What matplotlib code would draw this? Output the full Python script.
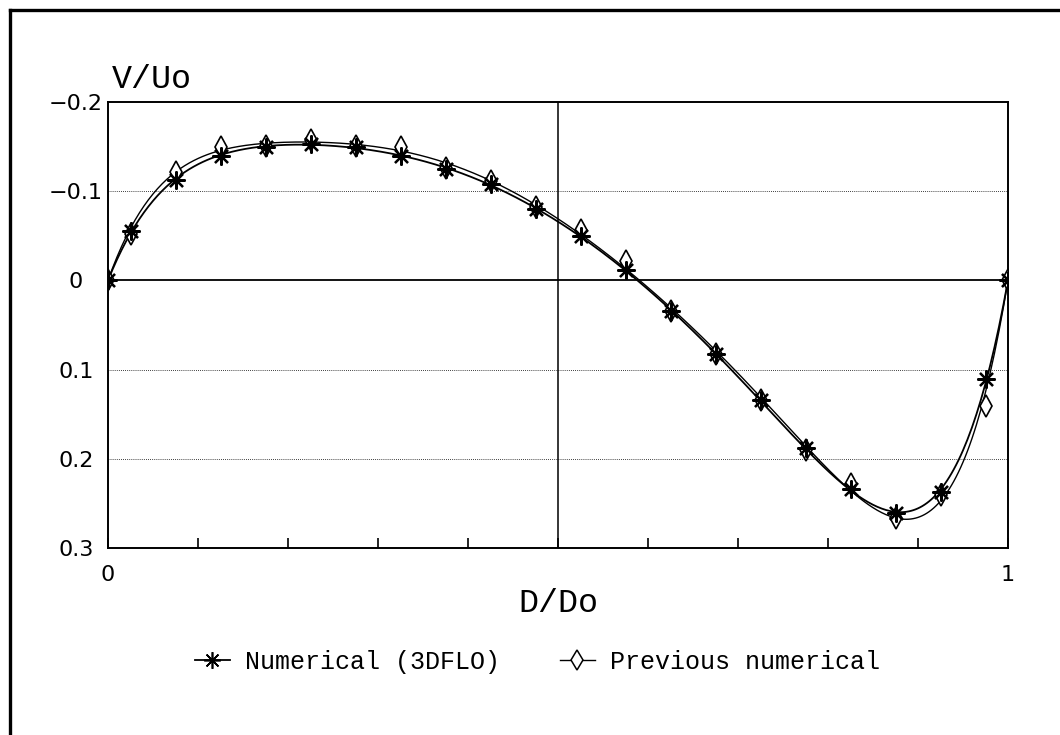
import numpy as np
import matplotlib.pyplot as plt
from matplotlib.lines import Line2D

# D/Do positions of the sampled points
d_ratio = [0.0, 0.025, 0.075, 0.125, 0.175, 0.225, 0.275, 0.325, 0.375, 0.425, 0.475,
           0.525, 0.575, 0.625, 0.675, 0.725, 0.775, 0.825, 0.875, 0.925, 0.975, 1.0]

# V/Uo, numerical (3DFLO)
v_3dflo = [0.0, -0.055, -0.113, -0.140, -0.150, -0.153, -0.149, -0.140, -0.125, -0.108, -0.080,
           -0.050, -0.012, 0.034, 0.083, 0.134, 0.188, 0.234, 0.261, 0.237, 0.111, 0.0]

# V/Uo, previous numerical
v_prev = [0.0, -0.052, -0.122, -0.150, -0.151, -0.157, -0.151, -0.149, -0.126, -0.111, -0.082,
          -0.057, -0.022, 0.034, 0.082, 0.134, 0.190, 0.228, 0.266, 0.241, 0.141, 0.0]

y_ticks = [-0.2, -0.1, 0.0, 0.1, 0.2, 0.3]
y_tick_labels = ["\u22120.2", "\u22120.1", "0", "0.1", "0.2", "0.3"]

mono = "Liberation Mono"


def smooth_curve(x, y, deg=7):
    # least squares polynomial, ends pinned by heavy weights
    x = np.asarray(x)
    y = np.asarray(y)
    w = np.ones_like(x)
    w[0] = w[-1] = 50
    p = np.polyfit(x, y, deg, w=w)
    xs = np.linspace(x[0], x[-1], 400)
    return xs, np.polyval(p, xs)


fig = plt.figure(figsize=(10.6, 7.35), dpi=100)
ax = fig.add_axes([108/1060, 1 - 548/735, 900/1060, 446/735])

# frame round the whole figure (top and left edges visible)
fig.add_artist(Line2D([10/1060, 10/1060], [-0.1, 1 - 10/735], transform=fig.transFigure,
                      color="black", lw=2.4))
fig.add_artist(Line2D([10/1060, 1.1], [1 - 10/735, 1 - 10/735], transform=fig.transFigure,
                      color="black", lw=2.4))

# reference lines
ax.axhline(0, color="black", lw=1.3, zorder=1)
ax.axvline(0.5, color="black", lw=1.1, zorder=1)
for g in [-0.1, 0.1, 0.2]:
    ax.axhline(g, color="black", lw=0.6, ls=(0, (1, 1.5)), zorder=1)

xs, ys = smooth_curve(d_ratio, v_3dflo)
ax.plot(xs, ys, color="black", lw=1.3, zorder=2)
xs, ys = smooth_curve(d_ratio, v_prev)
ax.plot(xs, ys, color="black", lw=1.0, zorder=2)

ax.plot(d_ratio, v_prev, ls="none", marker="d", ms=11, mfc="white", mec="black", mew=1.2, zorder=3)
ax.plot(d_ratio, v_3dflo, ls="none", marker=(8, 2, 0), ms=13, mec="black", mew=1.6, zorder=4)

ax.set_xlim(0, 1)
ax.set_ylim(0.3, -0.2)
ax.set_yticks(y_ticks)
ax.set_yticklabels(y_tick_labels)
ax.set_xticks([0, 1])
ax.set_xticklabels(["0", "1"])
ax.set_xticks(np.arange(0.1, 0.95, 0.1), minor=True)
ax.tick_params(axis="y", length=0, pad=23, labelsize=16)
for lab in ax.get_yticklabels():
    lab.set_horizontalalignment("center")
ax.tick_params(axis="x", which="both", direction="in", length=7, width=1.2, pad=12, labelsize=16)
for s in ax.spines.values():
    s.set_linewidth(1.4)

fig.text(112/1060, 1 - 80/735, "V/Uo", family=mono, fontsize=24, ha="left", va="center")
fig.text(558/1060, 1 - 604/735, "D/Do", family=mono, fontsize=24, ha="center", va="center")

handles = [
    Line2D([], [], color="black", lw=1.3, marker=(8, 2, 0), ms=12, mew=1.2),
    Line2D([], [], color="black", lw=1.0, marker="d", ms=10, mfc="white", mec="black", mew=1.1),
]
fig.legend(handles, ["Numerical (3DFLO)", "Previous numerical"], loc="center",
           bbox_to_anchor=(537/1060, 1 - 662/735), ncol=2, frameon=False,
           prop={"family": mono, "size": 18}, handlelength=1.4, handletextpad=0.6,
           columnspacing=2.4)

fig.savefig("out.png", dpi=100)
